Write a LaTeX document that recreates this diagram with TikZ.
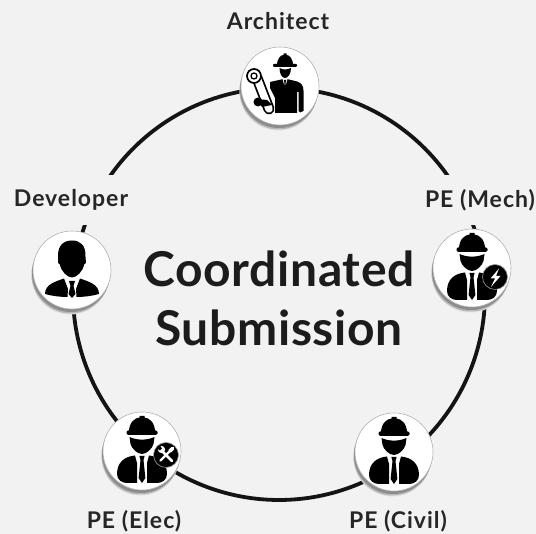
\documentclass[tikz,border=0pt]{standalone}
\usepackage{fontspec}
\setmainfont{Lato}
\usetikzlibrary{shadows,calc}
\definecolor{bgc}{HTML}{F2F2F2}
\definecolor{ink}{HTML}{262626}
\definecolor{titleink}{HTML}{1C1C1C}
\tikzset{
  x=1pt,y=1pt,
  badgeicon/.style={circle,minimum size=78pt,inner sep=0pt,fill=white,draw=black!30,line width=.6pt,
     general shadow={shadow xshift=-1.5pt,shadow yshift=-5.5pt,fill=black!12,draw=none},
     general shadow={shadow xshift=-1.5pt,shadow yshift=-4.5pt,fill=black!28,draw=none},
     general shadow={shadow xshift=-1pt,shadow yshift=-3pt,fill=black!45,draw=none}},
  ringline/.style={draw=black!92,line width=3.8pt},
  rolelabel/.style={font=\addfontfeature{LetterSpace=4.3}\bfseries\fontsize{23}{26}\selectfont,text=ink,inner sep=0pt},
  maskedlabel/.style={rolelabel,fill=bgc,minimum height=50pt},
  bigtitle/.style={font=\addfontfeature{LetterSpace=1.4}\bfseries\fontsize{48}{59}\selectfont,text=titleink,inner sep=0pt,align=center},
  pics/hatguy/.style={code={
    \fill (-13,-19) .. controls (-13,-29) and (-7,-33) .. (-2.5,-33.5) -- (-2.5,-35) -- (2.5,-35) -- (2.5,-33.5) .. controls (7,-33) and (13,-29) .. (13,-19) -- cycle;
    \fill[rounded corners=1.5pt] (-15.5,-20.5) rectangle (15.5,-16);
    \fill (-12.5,-14) .. controls (-5,-10.5) and (5,-10.5) .. (12.5,-14) -- (11.5,-7) .. controls (10,-2) and (4.5,3) .. (0,3) .. controls (-4.5,3) and (-10,-2) .. (-11.5,-7) -- cycle;
    \fill (-7,4.5) .. controls (-17,5.5) and (-25,11) .. (-25,23) .. controls (-25,29) and (-20,32) .. (-15,32) -- (-5,32) -- (-5,12) -- cycle;
    \fill (7,4.5) .. controls (17,5.5) and (25,11) .. (25,23) .. controls (25,29) and (20,32) .. (15,32) -- (5,32) -- (5,12) -- cycle;
    \fill (-2.6,5) -- (2.6,5) -- (1.5,9) -- (3.4,27) -- (0,32) -- (-3.4,27) -- (-1.5,9) -- cycle;
  }},
  pics/boltbadge/.style={code={
    \fill[black,draw=black!40,line width=.6pt] (23,9) circle (12.5);
    \fill[white] (27,0.5) -- (18.5,10.5) -- (23,10.5) -- (19,19) -- (28.5,8) -- (24,8) -- cycle;
  }},
  pics/toolbadge/.style={code={
    \fill[black,draw=black!40,line width=.6pt] (24,4) circle (12.5);
    \draw[white,line width=2.6pt,line cap=round] (20,0) -- (30,10);
    \draw[white,line width=2.2pt,line cap=round] (29,-1) -- (18.5,9.5);
    \fill[white] (19.5,-1.5) circle (3.6);
    \fill[black] (17.5,-6) -- (20,-2.5) -- (18,-0.5) -- (14.5,-3) -- cycle;
    \draw[white,line width=3.6pt,line cap=round] (30.5,-2.5) -- (28,0);
  }},
  pics/plainguy/.style={code={
    \fill (-14,-13) .. controls (-14.5,-25) and (-8,-29.5) .. (0,-29.5) .. controls (8,-29.5) and (14,-25) .. (13.5,-13) -- (14,-7) -- (12.5,-6) .. controls (11,1) and (5,7.5) .. (0,7.5) .. controls (-5,7.5) and (-11,1) .. (-12.5,-6) -- (-14,-7) -- cycle;
    \fill (-8,8.5) .. controls (-16,11.5) and (-27,14) .. (-27,24) .. controls (-20,26) and (-12,27) .. (-4.5,27) -- (-4,19) -- cycle;
    \fill (8,8.5) .. controls (16,11.5) and (27,14) .. (27,24) .. controls (20,26) and (12,27) .. (4.5,27) -- (4,19) -- cycle;
    \fill (-3,11) -- (3,11) -- (1.5,16) -- (3.5,24) -- (0,28) -- (-3.5,24) -- (-1.5,16) -- cycle;
  }},
  pics/archguy/.style={code={
    \fill (-3,-20.5) .. controls (-3,-28) and (1,-31) .. (3.5,-31) -- (3.5,-32.5) -- (6.5,-32.5) -- (6.5,-31) .. controls (9,-31) and (13,-28) .. (13,-20.5) -- cycle;
    \fill[rounded corners=1pt] (-7,-22) rectangle (17,-19);
    \fill (-0.5,-18) .. controls (3,-16) and (7,-16) .. (11,-18) .. controls (11,-12) and (8,-8) .. (5,-8) .. controls (2,-8) and (-0.5,-12) .. (-0.5,-18) -- cycle;
    \fill (-1,-6) -- (3.5,-7) -- (5,2) -- (6.5,-7) -- (11,-6) -- (17,-4.5) .. controls (21,-3) and (23.5,-1) .. (23.5,5) -- (23.5,25) -- (20,26.5) -- (18.5,25) -- (18.5,6) -- (17,6) -- (17,27) -- (-5,27) -- (-5,12) -- (-10,2) -- (-10,-4) -- cycle;
    \fill[white] (2.5,-7) -- (7.5,-7) -- (5,2) -- cycle;
    \fill (3.8,-6) -- (6.2,-6) -- (5.5,-3) -- (6,1) -- (5,4) -- (4,1) -- (4.5,-3) -- cycle;
    \draw[black,line width=11pt,line cap=round] (-23,-8) -- (-11,23);
    \draw[white,line width=7.5pt,line cap=round] (-23,-8) -- (-11,23);
    \draw[fill=white,line width=1.7pt] (-26,-10) circle (7);
    \draw[line width=1.3pt] (-26,-10) circle (3);
    \fill (-22,16) circle (4.5);
    \fill (-23,13) -- (-13,14) -- (-8,19) -- (-18,21) -- cycle;
  }}
}
\begin{document}
\begin{tikzpicture}
\useasboundingbox (0,0) rectangle (536,534);
\fill[bgc] (0,0) rectangle (536,534);
\coordinate (ring) at (279,240);
\foreach \nm/\ang in {aR/90,mR/7.7,cR/-54,eR/-131,dR/173.4}
  \coordinate (\nm) at ($(ring)+(\ang:206)$);
\draw[ringline] (aR) arc[start angle=90,end angle=7.7,radius=206];
\draw[ringline] (mR) arc[start angle=7.7,end angle=-54,radius=206];
\draw[ringline] (cR) arc[start angle=-54,end angle=-131,radius=206];
\draw[ringline] (eR) arc[start angle=-131,end angle=-186.6,radius=206];
\draw[ringline] (dR) arc[start angle=173.4,end angle=90,radius=206];

\node[maskedlabel] (l2) at (480,334) {PE (Mech)};
\node[maskedlabel] (l3) at (71,334) {Developer};
\node[rolelabel] (l1) at (278,513) {Architect};
\node[rolelabel] (l4) at (134,13) {PE (Elec)};
\node[rolelabel] (l5) at (398,13) {PE (Civil)};

\node[badgeicon] (arch) at (280,448) {};
\node[badgeicon] (mech) at (472,266) {};
\node[badgeicon] (civil) at (394,82) {};
\node[badgeicon] (elec) at (142,83) {};
\node[badgeicon] (dev) at (72,264) {};

\pic[yscale=-1] at (arch) {archguy};
\pic[yscale=-1] at (mech) {hatguy};
\pic[yscale=-1] at (mech) {boltbadge};
\pic[yscale=-1] at (civil) {hatguy};
\pic[yscale=-1] at (elec) {hatguy};
\pic[yscale=-1] at (elec) {toolbadge};
\pic[yscale=-1] at (dev) {plainguy};

\node[bigtitle] (t1) at (279,236) {Coordinated\\Submission};
\end{tikzpicture}
\end{document}
